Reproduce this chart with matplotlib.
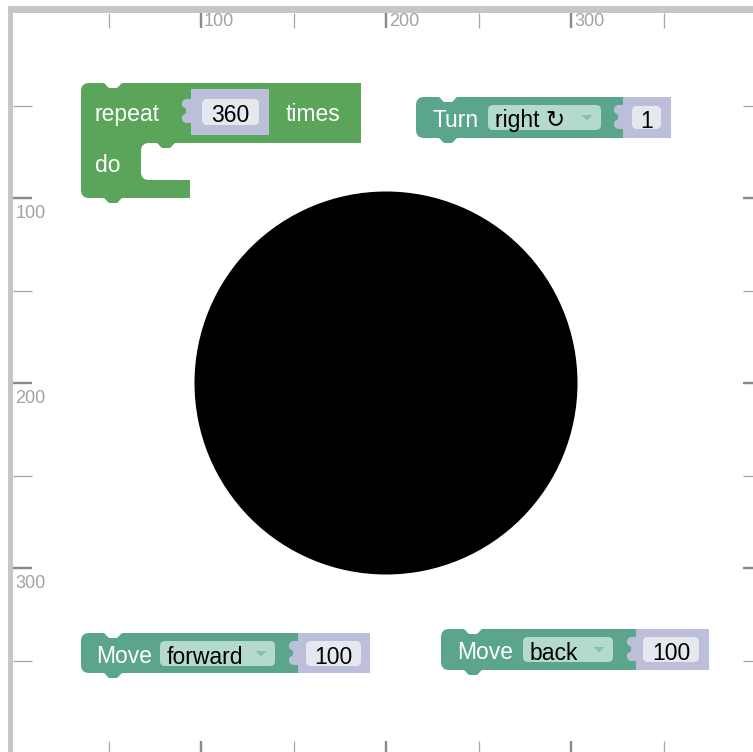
import numpy as np
import matplotlib
matplotlib.use("Agg")
import matplotlib.pyplot as plt
from matplotlib.path import Path
from matplotlib.patches import PathPatch, FancyBboxPatch, Polygon, Circle
import matplotlib.transforms as mtransforms

# ---------------- data ----------------
ruler_ticks = [50, 100, 150, 200, 250, 300, 350]
ruler_labels = [100, 200, 300]
repeat_count = 360
turn_direction = "right ↻"
turn_angle = 1
move_forward_dir = "forward"
move_back_dir = "back"
move_distance = 100
start_x, start_y = 200, 200

# ---------------- figure ----------------
W, H = 753, 752
fig = plt.figure(figsize=(W / 100, H / 100), dpi=100)
SCALE = 1.85           # px per turtle unit
X0, Y0 = 16, 13        # pixel position of turtle origin
ax = fig.add_axes([0, 0, 1, 1])
ax.set_xlim(-X0 / SCALE, (W - X0) / SCALE)
ax.set_ylim((H - Y0) / SCALE, -Y0 / SCALE)
ax.axis("off")
ax2 = fig.add_axes([0, 0, 1, 1], zorder=5)
ax2.set_xlim(0, W)
ax2.set_ylim(H, 0)
ax2.axis("off")
ax2.patch.set_alpha(0)

FONT = ["Liberation Sans", "DejaVu Sans"]
FS = 16.5

# ---------------- turtle drawing ----------------
# 360 x (forward 100, back 100, right 1) -> filled disc of radius 100 (pen width ~13px)
pen_px = 13
ax.add_patch(Circle((start_x, start_y), move_distance, facecolor="black",
                    edgecolor="black", linewidth=pen_px * 72 / 100, zorder=2))

# ---------------- rulers ----------------
tx = mtransforms.blended_transform_factory(ax.transData, ax2.transData)
ty = mtransforms.blended_transform_factory(ax2.transData, ax.transData)
grey_lbl = "#a2a2a2"
for t in ruler_ticks:
    major = t % 100 == 0
    lw = 2.4 if major else 1.3
    col = "#8a8a8a" if major else "#a8a8a8"
    ax.plot([t, t], [13, 28], transform=tx, color=col, lw=lw * 0.72, solid_capstyle="butt")
    ax.plot([t, t], [741, 752], transform=tx, color=col, lw=lw * 0.72, solid_capstyle="butt")
    ax.plot([13, 32], [t, t], transform=ty, color=col, lw=lw * 0.72, solid_capstyle="butt")
    ax.plot([743, 753], [t, t], transform=ty, color=col, lw=lw * 0.72, solid_capstyle="butt")
for t in ruler_labels:
    ax.text(t + 3 / SCALE, 21.5, str(t), transform=tx, ha="left", va="center",
            fontsize=13, color=grey_lbl, family=FONT)
    ax.text(15.5, t + 15 / SCALE, str(t), transform=ty, ha="left", va="center",
            fontsize=13, color=grey_lbl, family=FONT)
# border bars
ax2.add_patch(plt.Rectangle((8, 6), W - 8, 6.5, color="#c6c6c6", zorder=1, lw=0))
ax2.add_patch(plt.Rectangle((8, 6), 5.5, H - 6, color="#c6c6c6", zorder=1, lw=0))

# ---------------- block helpers ----------------
GREEN = "#5ba55b"
TEAL = "#5ba58c"
LAV = "#bbbfd9"
FIELD = "#e6e8f0"
DROP = "#b3dacb"
ARROW = "#84c3ab"


class PB:
    def __init__(self, x, y):
        self.v = [(x, y)]
        self.c = [Path.MOVETO]

    def L(self, x, y):
        self.v.append((x, y)); self.c.append(Path.LINETO)

    def Q(self, cx, cy, x, y):
        self.v += [(cx, cy), (x, y)]; self.c += [Path.CURVE3, Path.CURVE3]

    def C(self, c1, c2, p):
        self.v += [c1, c2, p]; self.c += [Path.CURVE4] * 3

    def notch(self, xa, xb, y, d=5):
        s = 1 if xb > xa else -1
        self.L(xa, y)
        self.C((xa + 3 * s, y), (xa + 4 * s, y + d), (xa + 7 * s, y + d))
        self.L(xb - 7 * s, y + d)
        self.C((xb - 4 * s, y + d), (xb - 3 * s, y), (xb, y))

    def close(self):
        self.v.append(self.v[0]); self.c.append(Path.CLOSEPOLY)
        return Path(self.v, self.c)


def stmt_block(x0, y0, x1, y1, color, r=8):
    p = PB(x0, y0 + r)
    p.Q(x0, y0, x0 + r, y0)
    p.notch(x0 + 22, x0 + 42, y0)
    p.L(x1, y0)
    p.L(x1, y1)
    p.notch(x0 + 42, x0 + 22, y1)
    p.L(x0 + r, y1)
    p.Q(x0, y1, x0, y1 - r)
    ax2.add_patch(PathPatch(p.close(), facecolor=color, edgecolor="none", zorder=3))


def input_slot(xl, y0, xr, y1, ty, color=LAV):
    ax2.add_patch(plt.Rectangle((xl, y0), xr - xl, y1 - y0, facecolor=color,
                                edgecolor="none", zorder=3))
    p = PB(xl + 1, ty)
    p.L(xl - 4, ty)
    p.Q(xl - 9, ty, xl - 9, ty + 5)
    p.L(xl - 9, ty + 6)
    p.C((xl - 9, ty + 9), (xl - 5, ty + 8), (xl - 5, ty + 11))
    p.L(xl - 5, ty + 13)
    p.C((xl - 5, ty + 16), (xl - 9, ty + 15), (xl - 9, ty + 18))
    p.L(xl - 9, ty + 19)
    p.Q(xl - 9, ty + 24, xl - 4, ty + 24)
    p.L(xl + 1, ty + 24)
    ax2.add_patch(PathPatch(p.close(), facecolor=color, edgecolor="none", zorder=3))


def field(x0, y0, x1, y1, color, text, ha="center", tx_=None):
    ax2.add_patch(FancyBboxPatch((x0, y0), x1 - x0, y1 - y0,
                                 boxstyle="round,pad=0,rounding_size=5",
                                 facecolor=color, edgecolor="none", zorder=4))
    xx = (x0 + x1) / 2 if ha == "center" else tx_
    ax2.text(xx, (y0 + y1) / 2 + 1, text, ha=ha, va="center_baseline",
             fontsize=FS, color="black", family=FONT, zorder=6)


def dropdown(x0, y0, x1, y1, text):
    field(x0, y0, x1, y1, DROP, text, ha="left", tx_=x0 + 7)
    cx, cy = x1 - 14, (y0 + y1) / 2
    ax2.add_patch(Polygon([(cx - 5.5, cy - 2.5), (cx + 5.5, cy - 2.5), (cx, cy + 3)],
                          closed=True, facecolor=ARROW, edgecolor="none", zorder=5))


def label(x, y, text):
    ax2.text(x, y + 1, text, ha="left", va="center_baseline", fontsize=FS,
             color="white", family=FONT, zorder=6)


# ---------------- repeat block ----------------
r = 8
p = PB(81, 83 + r)
p.Q(81, 83, 81 + r, 83)
p.notch(103, 123, 83)
p.L(361, 83)
p.L(361, 143)
p.notch(176, 156, 143)
p.L(141 + r, 143)
p.Q(141, 143, 141, 143 + r)
p.L(141, 180 - r)
p.Q(141, 180, 141 + r, 180)
p.L(190, 180)
p.L(190, 198)
p.notch(123, 103, 198)
p.L(81 + r, 198)
p.Q(81, 198, 81, 198 - r)
ax2.add_patch(PathPatch(p.close(), facecolor=GREEN, edgecolor="none", zorder=3))
input_slot(191, 89, 269, 135, 99)
field(202, 99, 259, 125, FIELD, str(repeat_count))
label(95, 111, "repeat")
label(286, 111, "times")
label(95, 162, "do")

# ---------------- turn block ----------------
stmt_block(416, 97, 623, 138, TEAL)
input_slot(623, 97, 671, 138, 105)
dropdown(488, 105, 601, 130, turn_direction)
field(632, 106, 661, 129, FIELD, str(turn_angle))
label(433, 117, "Turn")

# ---------------- move forward block ----------------
stmt_block(81, 633, 298, 673, TEAL)
input_slot(298, 633, 370, 673, 641)
dropdown(160, 641, 275, 666, move_forward_dir)
field(306, 641, 361, 666, FIELD, str(move_distance))
label(96, 653, "Move")

# ---------------- move back block ----------------
stmt_block(441, 629, 636, 670, TEAL)
input_slot(636, 629, 709, 670, 637)
dropdown(523, 637, 613, 662, move_back_dir)
field(643, 637, 699, 662, FIELD, str(move_distance))
label(457, 649, "Move")

fig.savefig("out.png", dpi=100)
